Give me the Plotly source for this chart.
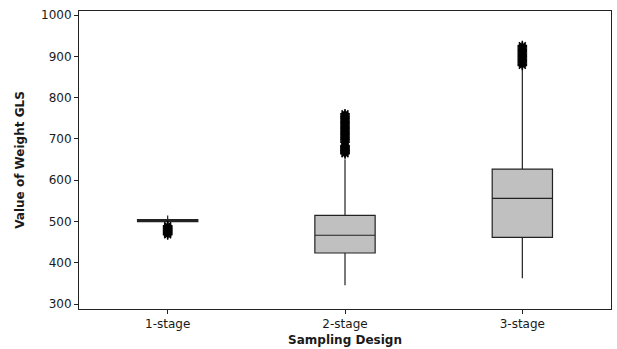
import plotly.graph_objects as go

categories = ["1-stage", "2-stage", "3-stage"]
q1 = [500, 424, 462]
median = [503, 467, 556]
q3 = [505, 515, 627]
lower_fence = [497, 346, 363]
upper_fence = [515, 651, 870]

outliers_1 = [468, 470, 472, 474, 476, 478, 480, 482, 484, 486, 488, 490]
outliers_2 = [664, 666, 668, 670, 672, 674, 676, 678, 680, 682, 684,
              692, 695, 698, 701, 704, 707, 710, 713, 716, 719, 722,
              725, 728, 731, 734, 737, 740, 743, 746, 749, 752, 755, 758, 761]
outliers_3 = [878, 881, 884, 887, 890, 893, 896, 899, 902, 905, 908,
              911, 914, 917, 920, 923, 926]

fig = go.Figure()
fig.add_trace(go.Box(
    x=categories, q1=q1, median=median, q3=q3,
    lowerfence=lower_fence, upperfence=upper_fence,
    fillcolor="#C0C0C0", line=dict(color="#222222", width=1.2),
    width=0.34, whiskerwidth=0, boxpoints=False, showlegend=False,
))
for cat, vals in zip(categories, [outliers_1, outliers_2, outliers_3]):
    fig.add_trace(go.Scatter(
        x=[cat] * len(vals), y=vals, mode="markers",
        marker=dict(symbol="asterisk-open", size=8, color="black",
                    line=dict(color="black", width=1.5)),
        showlegend=False,
    ))

font = dict(family="DejaVu Sans", size=12, color="#1a1a1a")
fig.update_layout(
    width=617, height=349,
    margin=dict(l=79, r=6, t=11, b=40),
    paper_bgcolor="white", plot_bgcolor="white",
    font=font,
)
fig.update_xaxes(
    type="category", range=[-0.5, 2.5], automargin=False,
    showline=True, linecolor="#222222", linewidth=1, mirror=True,
    ticks="outside", ticklen=4, tickcolor="#222222",
    showgrid=False, zeroline=False,
    title=dict(text="<b>Sampling Design</b>", standoff=5, font=dict(size=12)),
)
fig.update_yaxes(
    range=[288.5, 1009.7], automargin=False,
    tickvals=[300, 400, 500, 600, 700, 800, 900, 1000],
    showline=True, linecolor="#222222", linewidth=1, mirror=True,
    ticks="outside", ticklen=4, tickcolor="#222222",
    showgrid=False, zeroline=False,
    title=dict(text="<b>Value of Weight GLS</b>", standoff=13, font=dict(size=12)),
)
fig.write_html("out.html")
